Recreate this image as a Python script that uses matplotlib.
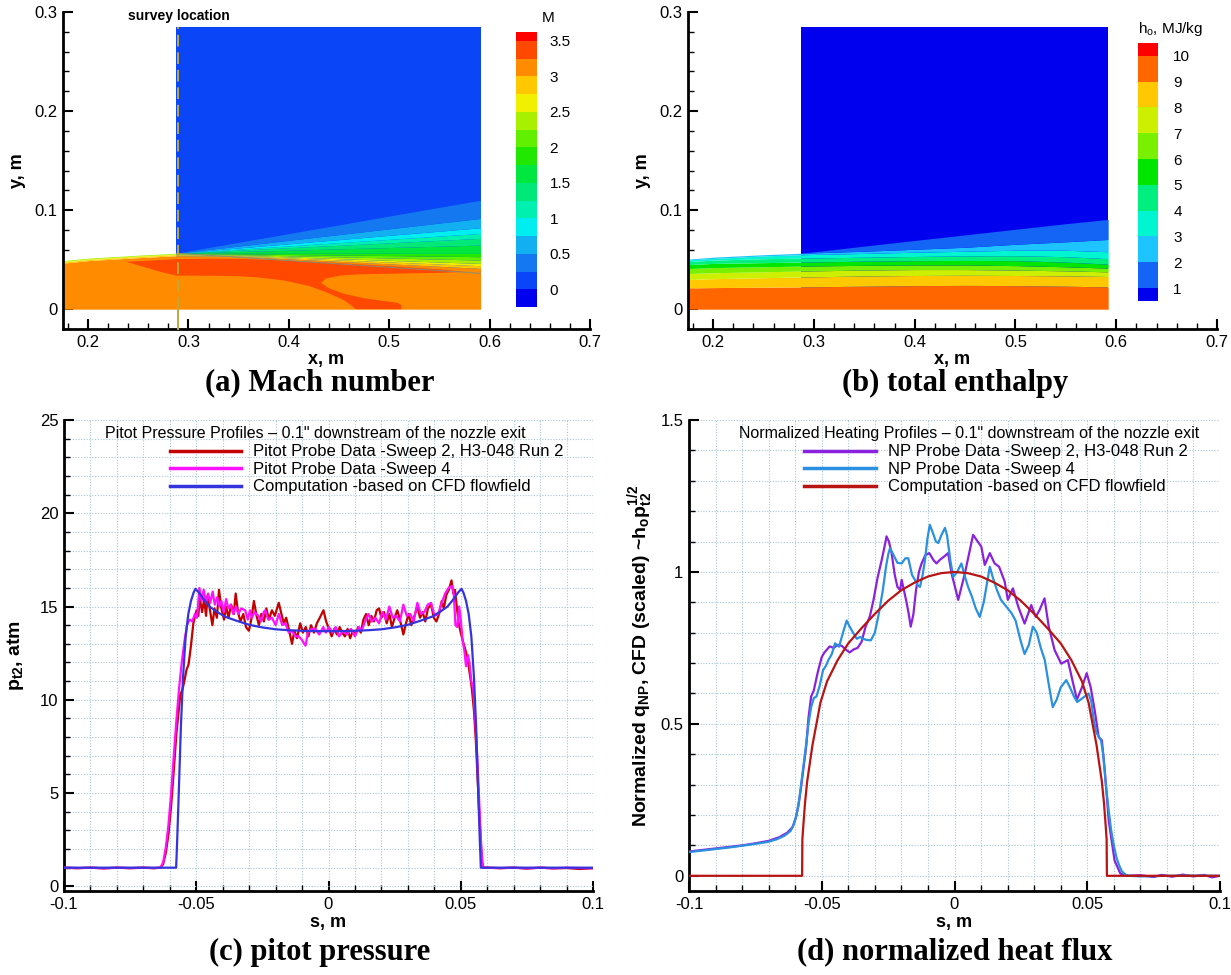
import numpy as np
import matplotlib
matplotlib.use("Agg")
import matplotlib as mpl
import matplotlib.pyplot as plt
from matplotlib.colors import ListedColormap, BoundaryNorm
from matplotlib.ticker import MultipleLocator, FuncFormatter
from matplotlib.lines import Line2D

plt.rcParams['font.family'] = ['Liberation Sans', 'DejaVu Sans']
plt.rcParams['axes.unicode_minus'] = False
plt.rcParams['mathtext.fontset'] = 'custom'
plt.rcParams['mathtext.rm'] = 'Liberation Sans'
plt.rcParams['mathtext.bf'] = 'Liberation Sans:bold'
plt.rcParams['mathtext.it'] = 'Liberation Sans:italic'

# ---------------- (a) Mach number field ----------------
mach_bounds = [-0.25, 0, 0.25, 0.5, 0.75, 1.0, 1.25, 1.5, 1.75, 2.0, 2.25, 2.5, 2.75, 3.0, 3.25, 3.5, 3.625]
mach_ticks = [0, 0.5, 1, 1.5, 2, 2.5, 3, 3.5]
mach_colors = ['#0000f0', '#0a46f8', '#1478f0', '#12b0f0', '#00eef0', '#00f0b0', '#00e878', '#00e840',
               '#20e800', '#60f000', '#a8f000', '#f0f000', '#ffc800', '#ff8c00', '#ff4800', '#ff0000']

# stations along x, band boundary heights (m)
xa = [0.175, 0.20, 0.25, 0.288, 0.35, 0.40, 0.45, 0.50, 0.55, 0.591]
mach_levels = [3.0, 2.75, 2.5, 2.25, 2.0, 1.75, 1.5, 1.25, 1.0, 0.75, 0.5, 0.25]
m_300 = [0.0465, 0.0490, 0.0520, 0.0540, 0.0534, 0.0508, 0.0483, 0.0458, 0.0433, 0.0412]
m_275 = [0.0475, 0.0500, 0.0530, 0.0550, 0.0539, 0.0518, 0.0498, 0.0477, 0.0456, 0.0439]
m_250 = [0.0482, 0.0507, 0.0537, 0.0557, 0.0544, 0.0527, 0.0510, 0.0493, 0.0476, 0.0462]
m_225 = [0.0490, 0.0515, 0.0545, 0.0565, 0.0551, 0.0539, 0.0528, 0.0517, 0.0505, 0.0496]
m_200 = [0.0490, 0.0515, 0.0545, 0.0565, 0.0558, 0.0552, 0.0546, 0.0541, 0.0535, 0.0530]
m_175 = [0.0490, 0.0515, 0.0545, 0.0565, 0.0565, 0.0564, 0.0564, 0.0564, 0.0563, 0.0563]
m_150 = [0.0490, 0.0515, 0.0545, 0.0565, 0.0582, 0.0595, 0.0609, 0.0622, 0.0636, 0.0647]
m_125 = [0.0490, 0.0515, 0.0545, 0.0565, 0.0596, 0.0621, 0.0645, 0.0670, 0.0695, 0.0715]
m_100 = [0.0490, 0.0515, 0.0545, 0.0565, 0.0606, 0.0639, 0.0672, 0.0705, 0.0738, 0.0765]
m_075 = [0.0490, 0.0515, 0.0545, 0.0565, 0.0618, 0.0660, 0.0702, 0.0745, 0.0787, 0.0822]
m_050 = [0.0490, 0.0515, 0.0545, 0.0565, 0.0637, 0.0695, 0.0753, 0.0811, 0.0869, 0.0916]
m_025 = [0.0490, 0.0515, 0.0545, 0.0565, 0.0675, 0.0763, 0.0851, 0.0940, 0.1028, 0.1100]
red_core_x = [0.238, 0.26, 0.288, 0.32, 0.351, 0.39, 0.431, 0.47, 0.511, 0.551, 0.575,
              0.551, 0.511, 0.471, 0.452, 0.437, 0.432, 0.44, 0.455, 0.475, 0.495, 0.508, 0.512, 0.512,
              0.4666, 0.462, 0.455, 0.44, 0.42, 0.395, 0.37, 0.351, 0.32, 0.2875, 0.272, 0.255]
red_core_y = [0.0478, 0.0490, 0.0505, 0.0510, 0.0508, 0.0495, 0.0476, 0.0453, 0.0428, 0.0401, 0.0377,
              0.0367, 0.0360, 0.0352, 0.0340, 0.0310, 0.0265, 0.0210, 0.0155, 0.0110, 0.0082, 0.0065, 0.0040, 0.0,
              0.0, 0.004, 0.009, 0.016, 0.0235, 0.029, 0.032, 0.0333, 0.0338, 0.0340, 0.0377, 0.0428]
block_x = [0.288, 0.591]
block_top = 0.285
shear_edge_x = [0.288, 0.591]
shear_edge_y = [0.0565, 0.0362]
survey_x = 0.290

# ---------------- (b) total enthalpy field ----------------
h_bounds = [0.5, 1, 2, 3, 4, 5, 6, 7, 8, 9, 10, 10.5]
h_ticks = [1, 2, 3, 4, 5, 6, 7, 8, 9, 10]
h_colors = ['#0000ee', '#1464f5', '#1ec4ff', '#00f5d0', '#00f080', '#00e600', '#78f000', '#ccf000',
            '#ffc800', '#ff6600', '#ff0000']
xb = [0.175, 0.20, 0.25, 0.288, 0.35, 0.40, 0.45, 0.50, 0.55, 0.592]
h_levels = [9, 8, 7, 6, 5, 4, 3, 2, 1]
h_9 = [0.0215, 0.0218, 0.0222, 0.0225, 0.0232, 0.0238, 0.0240, 0.0238, 0.0232, 0.0225]
h_8 = [0.0300, 0.0308, 0.0318, 0.0325, 0.0335, 0.0340, 0.0342, 0.0340, 0.0336, 0.0330]
h_7 = [0.0360, 0.0368, 0.0378, 0.0385, 0.0395, 0.0400, 0.0400, 0.0395, 0.0387, 0.0377]
h_6 = [0.0410, 0.0420, 0.0428, 0.0435, 0.0443, 0.0446, 0.0446, 0.0440, 0.0428, 0.0415]
h_5 = [0.0450, 0.0462, 0.0470, 0.0475, 0.0485, 0.0490, 0.0492, 0.0490, 0.0475, 0.0455]
h_4 = [0.0480, 0.0495, 0.0510, 0.0515, 0.0525, 0.0532, 0.0538, 0.0540, 0.0530, 0.0510]
h_3 = [0.0498, 0.0512, 0.0538, 0.0550, 0.0563, 0.0575, 0.0585, 0.0595, 0.0595, 0.0580]
h_2 = [0.0505, 0.0525, 0.0550, 0.0565, 0.0585, 0.0605, 0.0625, 0.0655, 0.0680, 0.0704]
h_1 = [0.0505, 0.0525, 0.0550, 0.0565, 0.0637, 0.0694, 0.0750, 0.0807, 0.0863, 0.0906]
hblock_x = [0.287, 0.592]

# ---------------- (c) pitot pressure ----------------
pit2_s = [-0.100, -0.095, -0.090, -0.085, -0.080, -0.075, -0.070, -0.066, -0.0635, -0.0625, -0.0615, -0.0605,
          -0.0595, -0.0585, -0.0575, -0.0565, -0.0560, -0.0553, -0.0545, -0.0537, -0.0529, -0.0520, -0.0511,
          -0.0499, -0.0492, -0.0487, -0.0478, -0.0470, -0.0463, -0.0457, -0.0448, -0.0439, -0.0431, -0.0422,
          -0.0414, -0.0405, -0.0395, -0.0387, -0.0378, -0.0368, -0.0358, -0.0351, -0.0342, -0.0333, -0.0322,
          -0.0312, -0.0301, -0.0292, -0.0282, -0.0272, -0.0263, -0.0254, -0.0244, -0.0235, -0.0225, -0.0214,
          -0.0203, -0.0188, -0.0178, -0.0169, -0.0160, -0.0150, -0.0138, -0.0129, -0.0119, -0.0107, -0.0097,
          -0.0086, -0.0076, -0.0066, -0.0055, -0.0044, -0.0033, -0.0019, -0.0009, 0.0002, 0.0012, 0.0022,
          0.0032, 0.0042, 0.0052, 0.0062, 0.0072, 0.0082, 0.0092, 0.0102, 0.0112, 0.0122, 0.0132, 0.0142,
          0.0152, 0.0162, 0.0172, 0.0182, 0.0191, 0.0200, 0.0210, 0.0220, 0.0230, 0.0240, 0.0250, 0.0260,
          0.0270, 0.0283, 0.0293, 0.0303, 0.0313, 0.0323, 0.0336, 0.0346, 0.0356, 0.0366, 0.0376, 0.0388,
          0.0398, 0.0408, 0.0418, 0.0428, 0.0436, 0.0445, 0.0455, 0.0465, 0.0472, 0.0478, 0.0485, 0.0492,
          0.0500, 0.0507, 0.0515, 0.0525, 0.0533, 0.0542, 0.0550, 0.0557, 0.0563, 0.0569, 0.0575, 0.0580,
          0.0585, 0.0600, 0.065, 0.070, 0.075, 0.080, 0.085, 0.090, 0.095, 0.100]
pit2_p = [1.00, 0.97, 1.00, 0.96, 1.00, 0.97, 1.00, 0.97, 1.00, 1.2, 1.8, 2.8,
          4.3, 6.2, 8.2, 9.6, 10.3, 10.5, 11.0, 11.6, 11.9, 12.9, 14.1,
          14.8, 14.5, 15.5, 14.7, 15.4, 14.5, 15.6, 14.8, 14.0, 14.9, 14.4,
          15.9, 14.9, 14.3, 15.0, 14.4, 15.1, 14.6, 15.7, 14.7, 14.2, 14.6,
          13.9, 13.7, 14.3, 15.3, 14.5, 14.0, 14.6, 14.2, 14.9, 14.3, 14.8,
          14.5, 15.2, 14.6, 14.1, 14.4, 13.8, 13.0, 13.7, 13.3, 14.1, 13.6,
          13.9, 13.4, 14.0, 13.6, 14.1, 14.4, 14.8, 14.2, 13.8, 13.4, 13.8,
          13.5, 13.9, 13.6, 13.4, 13.8, 13.3, 13.7, 13.5, 13.9, 13.6, 14.3, 14.6,
          14.0, 14.5, 14.2, 14.8, 14.9, 14.4, 14.7, 14.1, 14.6, 13.9, 14.4, 14.8,
          14.3, 13.5, 14.1, 14.6, 14.0, 14.4, 15.0, 14.4, 14.7, 14.2, 14.9, 15.1,
          14.4, 14.2, 14.6, 15.3, 14.9, 15.6, 15.9, 16.4, 15.7, 15.9, 15.0, 14.1,
          13.6, 13.2, 12.8, 12.3, 11.5, 10.6, 9.4, 7.8, 6.0, 4.2, 2.6, 1.4,
          1.0, 1.0, 0.97, 1.0, 0.95, 1.0, 0.96, 0.98, 0.93, 0.97]

pit4_s = [-0.100, -0.095, -0.090, -0.085, -0.080, -0.075, -0.070, -0.066, -0.0635, -0.0625, -0.0615, -0.0605,
          -0.0595, -0.0585, -0.0575, -0.0565, -0.0555, -0.0545, -0.0535, -0.0525, -0.0515, -0.0505, -0.0497,
          -0.0488, -0.0480, -0.0472, -0.0463, -0.0455, -0.0447, -0.0438, -0.0430, -0.0421, -0.0413, -0.0405,
          -0.0396, -0.0387, -0.0379, -0.0370, -0.0360, -0.0350, -0.0341, -0.0330, -0.0315, -0.0305, -0.0297,
          -0.0290, -0.0280, -0.0265, -0.0255, -0.0245, -0.0239, -0.0228, -0.0214, -0.0200, -0.0188, -0.0175,
          -0.0163, -0.0150, -0.0138, -0.0125, -0.0112, -0.0100, -0.0087, -0.0078, -0.0065, -0.0049, -0.0035,
          -0.0020, -0.0010, 0.0002, 0.0015, 0.0027, 0.0040, 0.0055, 0.0070, 0.0085, 0.0100, 0.0115, 0.0125,
          0.0138, 0.0151, 0.0164, 0.0177, 0.0191, 0.0204, 0.0217, 0.0230, 0.0243, 0.0256, 0.0270, 0.0283,
          0.0296, 0.0309, 0.0322, 0.0336, 0.0349, 0.0362, 0.0375, 0.0388, 0.0401, 0.0415, 0.0428, 0.0441,
          0.0454, 0.0468, 0.0474, 0.0480, 0.0487, 0.0494, 0.0500, 0.0507, 0.0514, 0.0520, 0.0527, 0.0533,
          0.0540, 0.0547, 0.0553, 0.0560, 0.0566, 0.0572, 0.0578, 0.0583, 0.0590, 0.065, 0.070, 0.075,
          0.080, 0.085, 0.090, 0.095, 0.100]
pit4_p = [1.00, 0.98, 1.00, 0.97, 1.00, 0.98, 1.00, 0.98, 1.00, 1.3, 2.1, 3.3,
          5.0, 7.0, 8.9, 10.6, 12.0, 13.1, 14.0, 14.3, 14.2, 14.6, 14.4,
          16.0, 15.3, 15.9, 15.2, 15.7, 15.2, 15.8, 15.1, 15.5, 15.0, 15.3,
          14.7, 15.4, 14.9, 15.1, 14.6, 15.0, 14.6, 14.9, 14.8, 14.3, 14.8,
          14.4, 14.7, 14.5, 14.2, 14.7, 14.8, 14.3, 14.4, 14.0, 14.6, 14.0,
          14.1, 13.6, 13.7, 13.4, 13.4, 13.2, 12.9, 13.6, 13.8, 13.8, 13.5,
          13.9, 13.6, 13.9, 13.6, 13.9, 13.4, 13.7, 13.5, 13.8, 13.4, 13.9, 13.7,
          14.2, 14.6, 14.2, 14.4, 14.1, 14.7, 14.3, 15.0, 14.4, 14.5, 14.2, 15.1,
          14.5, 14.6, 14.2, 15.2, 14.6, 14.7, 15.1, 15.2, 14.5, 14.6, 15.2, 15.7,
          16.0, 16.1, 15.6, 14.0, 13.9, 15.0, 14.3, 13.2, 12.6, 11.8, 12.4, 12.0,
          11.0, 10.6, 9.4, 7.6, 5.8, 3.8, 2.0, 1.1, 1.0, 0.98, 1.0, 0.97,
          1.0, 0.97, 1.0, 0.98, 0.97]

comp_s = [-0.100, -0.0576, -0.0572, -0.0565, -0.0558, -0.0550, -0.0540, -0.0530, -0.0520, -0.0510, -0.0503,
          -0.0490, -0.0470, -0.0450, -0.0420, -0.0390, -0.0350, -0.0300, -0.0250, -0.0200, -0.0150, -0.0100,
          -0.0050, 0.0, 0.0050, 0.0100, 0.0150, 0.0200, 0.0250, 0.0300, 0.0350, 0.0390, 0.0420, 0.0450,
          0.0470, 0.0490, 0.0503, 0.0510, 0.0520, 0.0530, 0.0540, 0.0550, 0.0558, 0.0565, 0.0572, 0.0576, 0.100]
comp_p = [1.0, 1.0, 2.5, 5.5, 8.6, 11.2, 13.4, 14.6, 15.3, 15.75, 15.95,
          15.75, 15.35, 15.0, 14.7, 14.45, 14.25, 14.02, 13.88, 13.78, 13.73, 13.70,
          13.68, 13.68, 13.68, 13.70, 13.73, 13.78, 13.88, 14.02, 14.25, 14.45, 14.7, 15.0,
          15.35, 15.75, 15.95, 15.75, 15.3, 14.6, 13.4, 11.2, 8.6, 5.5, 2.5, 1.0, 1.0]

# ---------------- (d) normalized heat flux ----------------
np2_s = [-0.100, -0.090, -0.080, -0.075, -0.070, -0.066, -0.063, -0.0610, -0.0598, -0.0588, -0.0578, -0.0568,
         -0.0558, -0.0550, -0.0540, -0.0530, -0.0515, -0.0500, -0.0490, -0.0480, -0.0470, -0.0455, -0.0440,
         -0.0425, -0.0410, -0.0395, -0.0380, -0.0365, -0.0350, -0.0335, -0.0319, -0.0305, -0.0290, -0.0274,
         -0.0262, -0.0256, -0.0247, -0.0237, -0.0225, -0.0215, -0.0205, -0.0199, -0.0188, -0.0180, -0.0172,
         -0.0165, -0.0155, -0.0145, -0.0134, -0.0124, -0.0110, -0.0095, -0.0080, -0.0068, -0.0055, -0.0040,
         -0.0024, -0.0011, 0.0014, 0.0039, 0.0070, 0.0101, 0.0114, 0.0133, 0.0151, 0.0168, 0.0189, 0.0201,
         0.0220, 0.0240, 0.0264, 0.0289, 0.0306, 0.0320, 0.0339, 0.0355, 0.0377, 0.0402, 0.0427, 0.0445,
         0.0461, 0.0480, 0.0498, 0.0513, 0.0528, 0.0543, 0.0555, 0.0566, 0.0581, 0.0603, 0.0625, 0.0650,
         0.070, 0.075, 0.078, 0.082, 0.086, 0.090, 0.094, 0.097, 0.100]
np2_q = [0.080, 0.090, 0.100, 0.107, 0.115, 0.127, 0.142, 0.160, 0.190, 0.230, 0.290, 0.360,
         0.430, 0.520, 0.590, 0.610, 0.670, 0.720, 0.735, 0.745, 0.755, 0.750, 0.760,
         0.757, 0.745, 0.735, 0.745, 0.750, 0.770, 0.820, 0.853, 0.908, 0.980, 1.040,
         1.090, 1.117, 1.100, 1.062, 0.990, 0.951, 0.940, 0.974, 0.930, 0.897, 0.860,
         0.820, 0.860, 0.940, 1.000, 1.028, 1.055, 1.062, 1.040, 1.028, 1.040, 1.050,
         1.062, 0.995, 0.908, 0.995, 1.122, 1.083, 1.023, 1.062, 1.028, 1.017, 0.968, 0.908,
         0.946, 0.886, 0.830, 0.891, 0.852, 0.874, 0.913, 0.820, 0.743, 0.698, 0.710, 0.640,
         0.580, 0.620, 0.667, 0.620, 0.545, 0.457, 0.446, 0.347, 0.180, 0.050, 0.007, 0.0,
         0.002, -0.004, 0.003, -0.003, 0.004, -0.002, 0.003, -0.005, 0.0]

np4_s = [-0.100, -0.095, -0.090, -0.085, -0.080, -0.075, -0.070, -0.067, -0.064, -0.0617, -0.0605, -0.0595,
         -0.0585, -0.0575, -0.0562, -0.0550, -0.0540, -0.0530, -0.0520, -0.0508, -0.0495, -0.0485, -0.0475,
         -0.0462, -0.0450, -0.0443, -0.0435, -0.0420, -0.0406, -0.0395, -0.0380, -0.0368, -0.0355, -0.0345,
         -0.0330, -0.0315, -0.0300, -0.0285, -0.0270, -0.0258, -0.0249, -0.0243, -0.0232, -0.0215, -0.0199,
         -0.0185, -0.0174, -0.0160, -0.0149, -0.0138, -0.0130, -0.0120, -0.0111, -0.0102, -0.0093, -0.0082,
         -0.0070, -0.0061, -0.0050, -0.0036, -0.0028, -0.0016, -0.0005, 0.0010, 0.0026, 0.0041, 0.0051,
         0.0065, 0.0080, 0.0095, 0.0110, 0.0133, 0.0145, 0.0160, 0.0175, 0.0195, 0.0215, 0.0230, 0.0250,
         0.0264, 0.0280, 0.0295, 0.0310, 0.0325, 0.0340, 0.0355, 0.0370, 0.0385, 0.0400, 0.0421, 0.0435,
         0.0450, 0.0462, 0.0475, 0.0490, 0.0505, 0.0515, 0.0525, 0.0535, 0.0545, 0.0552, 0.0560, 0.0570,
         0.0580, 0.0590, 0.0600, 0.0610, 0.0620, 0.0630, 0.0645, 0.0660, 0.070, 0.080, 0.090, 0.100]
np4_q = [0.078, 0.083, 0.088, 0.093, 0.099, 0.105, 0.112, 0.120, 0.132, 0.148, 0.170, 0.200,
         0.250, 0.320, 0.410, 0.500, 0.555, 0.585, 0.590, 0.625, 0.677, 0.690, 0.710,
         0.730, 0.765, 0.760, 0.754, 0.800, 0.840, 0.820, 0.797, 0.780, 0.786, 0.780,
         0.776, 0.775, 0.800, 0.863, 0.940, 1.017, 1.060, 1.078, 1.060, 1.030, 1.028,
         1.045, 1.045, 0.990, 0.974, 0.955, 0.951, 0.990, 1.040, 1.110, 1.155, 1.130,
         1.100, 1.095, 1.120, 1.145, 1.120, 1.040, 0.984, 1.000, 1.028, 0.980, 0.951,
         0.920, 0.880, 0.852, 0.900, 1.017, 0.980, 0.940, 0.908, 0.886, 0.864, 0.840, 0.770,
         0.730, 0.760, 0.820, 0.800, 0.750, 0.710, 0.630, 0.555, 0.580, 0.620, 0.644, 0.620,
         0.590, 0.572, 0.580, 0.590, 0.600, 0.575, 0.510, 0.470, 0.456, 0.445, 0.400, 0.300,
         0.220, 0.150, 0.100, 0.060, 0.035, 0.015, 0.003, 0.0, -0.002, 0.0, 0.001, 0.0]

cfd_s = [-0.100, -0.0574, -0.0573, -0.0569, -0.0563, -0.0555, -0.0545, -0.0535, -0.0520, -0.0505, -0.0480,
         -0.0440, -0.0400, -0.0350, -0.0300, -0.0250, -0.0200, -0.0150, -0.0100, -0.0050, 0.0, 0.0050,
         0.0100, 0.0150, 0.0200, 0.0250, 0.0300, 0.0350, 0.0400, 0.0440, 0.0480, 0.0505, 0.0520, 0.0535,
         0.0545, 0.0555, 0.0563, 0.0569, 0.0573, 0.0574, 0.100]
cfd_q = [0.0, 0.0, 0.12, 0.17, 0.24, 0.31, 0.37, 0.43, 0.50, 0.57, 0.64,
         0.71, 0.765, 0.815, 0.862, 0.905, 0.940, 0.965, 0.985, 0.996, 1.0, 0.996,
         0.985, 0.965, 0.940, 0.905, 0.862, 0.815, 0.765, 0.71, 0.64, 0.57, 0.50, 0.43,
         0.37, 0.31, 0.24, 0.17, 0.12, 0.0, 0.0]

# ---------------- layout ----------------
W, H = 1231, 975


def px_rect(x0, y0, x1, y1):
    return [x0 / W, 1 - y1 / H, (x1 - x0) / W, (y1 - y0) / H]


def fmt(v, pos):
    v = round(v, 6)
    s = f"{v:g}"
    return "0" if s == "-0" else s


fig = plt.figure(figsize=(W / 100, H / 100), dpi=100)
ax_a = fig.add_axes(px_rect(63, 12, 590, 329))
ax_b = fig.add_axes(px_rect(688, 12, 1217, 329))
ax_c = fig.add_axes(px_rect(64, 420, 593, 891))
ax_d = fig.add_axes(px_rect(689, 420, 1220, 891))
cax_a = fig.add_axes(px_rect(516, 32, 537, 307))
cax_b = fig.add_axes(px_rect(1138, 43, 1158, 301))


def style_axes(ax, xmaj, xmin, ymaj, ymin):
    for side in ['top', 'right']:
        ax.spines[side].set_visible(False)
    for side in ['left', 'bottom']:
        ax.spines[side].set_linewidth(2.0)
    ax.xaxis.set_major_locator(MultipleLocator(xmaj))
    ax.xaxis.set_minor_locator(MultipleLocator(xmin))
    ax.yaxis.set_major_locator(MultipleLocator(ymaj))
    ax.yaxis.set_minor_locator(MultipleLocator(ymin))
    ax.xaxis.set_major_formatter(FuncFormatter(fmt))
    ax.yaxis.set_major_formatter(FuncFormatter(fmt))
    ax.tick_params(which='major', direction='in', length=7, width=1.5, labelsize=12, pad=4)
    ax.tick_params(which='minor', direction='in', length=4, width=1.0)


# ---- (a) ----
cmap_m = ListedColormap(mach_colors)
norm_m = BoundaryNorm(mach_bounds, cmap_m.N)
ax_a.fill_between(block_x, 0, block_top, color=cmap_m(norm_m(0.1)), lw=0, zorder=1)
ax_a.fill_between(xa, 0, m_300, color=cmap_m(norm_m(3.1)), lw=0, zorder=2)
ax_a.fill(red_core_x, red_core_y, color=cmap_m(norm_m(3.4)), lw=0, zorder=3)
mach_y = [m_300, m_275, m_250, m_225, m_200, m_175, m_150, m_125, m_100, m_075, m_050, m_025]
for k in range(len(mach_y) - 1):
    mid = 0.5 * (mach_levels[k] + mach_levels[k + 1])
    ax_a.fill_between(xa, mach_y[k], mach_y[k + 1], color=cmap_m(norm_m(mid)), lw=0, zorder=2)
ax_a.plot(shear_edge_x, shear_edge_y, color='#8c8c70', lw=0.7, zorder=4)
ax_a.plot([survey_x, survey_x], [0, block_top], color='#c0a838', lw=1.4, ls=(0, (6, 3)), zorder=5)
ax_a.plot([survey_x, survey_x], [-0.02, 0], color='#c0a838', lw=1.4, zorder=5, clip_on=False)
ax_a.text(survey_x, 0.296, 'survey location', ha='center', va='center', fontsize=10,
          fontweight='bold', clip_on=False)
ax_a.set_xlim(0.175, 0.7)
ax_a.set_ylim(-0.02, 0.3)
style_axes(ax_a, 0.1, 0.02, 0.1, 0.02)
ax_a.set_xlabel('x, m', fontsize=13, fontweight='bold', labelpad=1)
ax_a.set_ylabel('y, m', fontsize=13, fontweight='bold', labelpad=6)

cb = mpl.colorbar.ColorbarBase(cax_a, cmap=cmap_m, norm=norm_m, boundaries=mach_bounds,
                               spacing='proportional', ticks=mach_ticks)
cb.outline.set_visible(False)
cax_a.minorticks_off()
cax_a.tick_params(which='both', length=0, labelsize=11, pad=9)
cax_a.yaxis.set_major_formatter(FuncFormatter(fmt))
cax_a.text(1.55, 1.025, 'M', transform=cax_a.transAxes, ha='center', va='bottom', fontsize=11)

# ---- (b) ----
cmap_h = ListedColormap(h_colors)
norm_h = BoundaryNorm(h_bounds, cmap_h.N)
ax_b.fill_between(hblock_x, 0, block_top, color=cmap_h(norm_h(0.75)), lw=0, zorder=1)
ax_b.fill_between(xb, 0, h_9, color=cmap_h(norm_h(9.5)), lw=0, zorder=2)
h_y = [h_9, h_8, h_7, h_6, h_5, h_4, h_3, h_2, h_1]
for k in range(len(h_y) - 1):
    mid = 0.5 * (h_levels[k] + h_levels[k + 1])
    ax_b.fill_between(xb, h_y[k], h_y[k + 1], color=cmap_h(norm_h(mid)), lw=0, zorder=2)
ax_b.set_xlim(0.175, 0.7)
ax_b.set_ylim(-0.02, 0.3)
style_axes(ax_b, 0.1, 0.02, 0.1, 0.02)
ax_b.set_xlabel('x, m', fontsize=13, fontweight='bold', labelpad=1)
ax_b.set_ylabel('y, m', fontsize=13, fontweight='bold', labelpad=6)

cb2 = mpl.colorbar.ColorbarBase(cax_b, cmap=cmap_h, norm=norm_h, boundaries=h_bounds,
                                spacing='proportional', ticks=h_ticks)
cb2.outline.set_visible(False)
cax_b.minorticks_off()
cax_b.tick_params(which='both', length=0, labelsize=11, pad=11)
cax_b.text(0.0, 1.02, r'h$_\mathrm{o}$, MJ/kg', transform=cax_b.transAxes, ha='left', va='bottom',
           fontsize=11)

# ---- (c) ----
grid_kw = dict(color='#a9c6d6', linestyle=(0, (1, 1.5)), linewidth=0.8)
ax_c.plot(pit2_s, pit2_p, color='#c40000', lw=1.6, zorder=3)
ax_c.plot(pit4_s, pit4_p, color='#ff10ff', lw=1.6, zorder=4)
ax_c.plot(comp_s, comp_p, color='#3434dc', lw=1.6, zorder=5)
ax_c.set_xlim(-0.1, 0.1)
ax_c.set_ylim(-0.25, 25)
style_axes(ax_c, 0.05, 0.01, 5, 1)
ax_c.set_axisbelow(True)
ax_c.grid(True, which='both', **grid_kw)
ax_c.set_xlabel('s, m', fontsize=13, fontweight='bold', labelpad=2)
ax_c.set_ylabel(r'$\mathbf{p}_\mathbf{t2}$, atm', fontsize=14, fontweight='bold', labelpad=10)
ax_c.text(0.078, 0.972, 'Pitot Pressure Profiles \u2013 0.1" downstream of the nozzle exit',
          transform=ax_c.transAxes, ha='left', va='center', fontsize=11.5)
handles_c = [Line2D([], [], color='#c40000', lw=2.5), Line2D([], [], color='#ff10ff', lw=2.5),
             Line2D([], [], color='#3434dc', lw=2.5)]
ax_c.legend(handles_c, ['Pitot Probe Data -Sweep 2, H3-048 Run 2', 'Pitot Probe Data -Sweep 4',
                        'Computation -based on CFD flowfield'],
            loc='upper left', bbox_to_anchor=(0.2, 0.948), frameon=False, fontsize=12,
            handlelength=4.3, handletextpad=0.7, labelspacing=0.15, borderpad=0, borderaxespad=0)

# ---- (d) ----
ax_d.plot(np2_s, np2_q, color='#8a22dd', lw=1.6, zorder=3)
ax_d.plot(np4_s, np4_q, color='#2a90e0', lw=1.6, zorder=4)
ax_d.plot(cfd_s, cfd_q, color='#b81414', lw=1.6, zorder=5)
ax_d.set_xlim(-0.1, 0.1)
ax_d.set_ylim(-0.05, 1.5)
style_axes(ax_d, 0.05, 0.01, 0.5, 0.1)
ax_d.set_axisbelow(True)
ax_d.grid(True, which='both', **grid_kw)
ax_d.set_xlabel('s, m', fontsize=13, fontweight='bold', labelpad=2)
ax_d.set_ylabel(r'Normalized $\mathbf{q}_\mathbf{NP}$, CFD (scaled) ~$\mathbf{h}_\mathbf{o}'
                r'\mathbf{p}_\mathbf{t2}^\mathbf{1/2}$', fontsize=14, fontweight='bold', labelpad=4)
ax_d.text(0.094, 0.972, 'Normalized Heating Profiles \u2013 0.1" downstream of the nozzle exit',
          transform=ax_d.transAxes, ha='left', va='center', fontsize=11.5)
handles_d = [Line2D([], [], color='#8a22dd', lw=2.5), Line2D([], [], color='#2a90e0', lw=2.5),
             Line2D([], [], color='#b81414', lw=2.5)]
ax_d.legend(handles_d, ['NP Probe Data -Sweep 2, H3-048 Run 2', 'NP Probe Data -Sweep 4',
                        'Computation -based on CFD flowfield'],
            loc='upper left', bbox_to_anchor=(0.217, 0.948), frameon=False, fontsize=12,
            handlelength=4.3, handletextpad=0.7, labelspacing=0.15, borderpad=0, borderaxespad=0)

# ---- captions ----
cap_kw = dict(ha='center', va='center', fontsize=22, fontweight='bold', family='Liberation Serif')
fig.text(320 / W, 1 - 383 / H, '(a) Mach number', **cap_kw)
fig.text(955 / W, 1 - 383 / H, '(b) total enthalpy', **cap_kw)
fig.text(320 / W, 1 - 952 / H, '(c) pitot pressure', **cap_kw)
fig.text(955 / W, 1 - 952 / H, '(d) normalized heat flux', **cap_kw)

fig.savefig('out.png', dpi=100)
